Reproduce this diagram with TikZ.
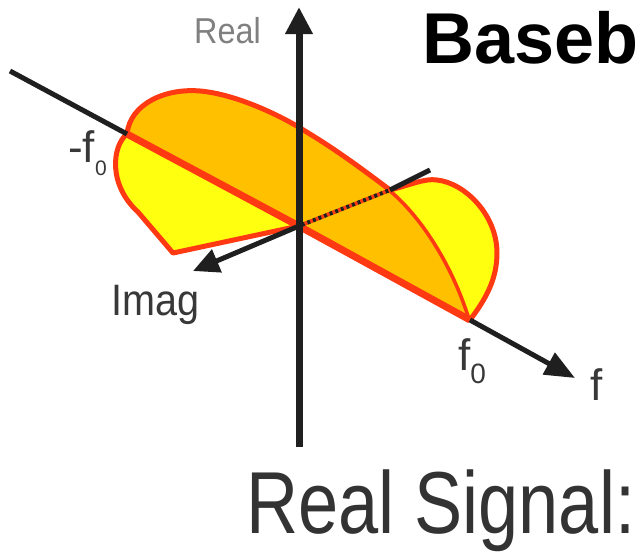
\documentclass[tikz,border=0pt]{standalone}
\usepackage{fontspec}
\usepackage{graphicx}
\setmainfont{Liberation Sans}
\usetikzlibrary{arrows.meta}
\definecolor{lobeorange}{HTML}{FFC000}
\definecolor{lobeyellow}{HTML}{FFFF10}
\definecolor{lobered}{HTML}{FF3A12}
\tikzset{
  axisline/.style={line width=5pt,draw=black!88},
  realaxis/.style={line width=7pt,draw=black!88,-{Triangle[length=27pt,width=26pt]}},
  farrow/.style={-{Triangle[length=30pt,width=24pt]}},
  iarrow/.style={-{Triangle[length=26pt,width=24pt]}},
  lobe/.style={draw=lobered,line width=5pt,line join=round},
  redaxis/.style={draw=lobered,line width=7pt},
  divider/.style={draw=lobered,line width=2.2pt},
  lbl/.style={inner sep=0pt,text=black!78,font=\fontsize{44}{44}\selectfont}
}

\begin{document}
\begin{tikzpicture}[x=1pt,y=-1pt]
  \useasboundingbox (0,0) rectangle (643,555);

  % axis points
  \coordinate (O) at (299,226);
  \coordinate (fneg) at (127,134);
  \coordinate (fpos) at (470,320);
  \coordinate (fstart) at (10,71);
  \coordinate (ftip) at (575,378);
  \coordinate (rtop) at (299,7);
  \coordinate (rbot) at (299,447);
  \coordinate (itip) at (193,271);
  \coordinate (ihid) at (390,190);
  \coordinate (iback) at (430,170);

  % lower left lobe
  \path[lobe,fill=lobeyellow] (fneg) .. controls (112,146) and (108,185) .. (138,212)
    -- (173,253) -- (O) -- cycle;
  % upper band
  \path[lobe,fill=lobeorange] (fneg) .. controls (130,104) and (165,88) .. (200,91)
    .. controls (235,94) and (280,115) .. (305,131)
    .. controls (340,152) and (370,175) .. (ihid)
    .. controls (420,215) and (452,262) .. (fpos) -- cycle;
  % right lobe
  \fill[lobeyellow] (ihid) .. controls (410,185) and (425,178) .. (437,180)
    .. controls (465,183) and (497,215) .. (497,253)
    .. controls (497,280) and (485,300) .. (fpos)
    .. controls (452,262) and (420,215) .. (ihid) -- cycle;
  \draw[lobe] (ihid) .. controls (410,185) and (425,178) .. (437,180)
    .. controls (465,183) and (497,215) .. (497,253)
    .. controls (497,280) and (485,300) .. (fpos);
  \draw[divider] (ihid) .. controls (420,215) and (452,262) .. (fpos);

  % f axis
  \draw[redaxis] (fneg) -- (O) -- (fpos);
  \draw[axisline] (fstart) -- (fneg);
  \draw[axisline,farrow] (fpos) -- (ftip);

  % imag axis, hidden part dotted
  \draw[lobered,line width=4pt,dash pattern=on 3pt off 3pt] (O) -- (ihid);
  \draw[black!88,line width=4pt,dash pattern=on 3pt off 3pt,dash phase=3pt] (O) -- (ihid);
  \draw[axisline] (ihid) -- (iback);
  \draw[axisline,iarrow] (O) -- (itip);

  % real axis
  \draw[realaxis] (rbot) -- (rtop);

  % labels
  \node[lbl,anchor=base west,text=black!50,font=\fontsize{36}{36}\selectfont] (reallbl)
    at (194,43) {\scalebox{0.9}[1]{Real}};
  \node[lbl,anchor=base west] (imaglbl) at (111,315) {\scalebox{0.9}[1]{Imag}};
  \node[lbl,anchor=base west] (fneglbl) at (68,162)
    {-f\raisebox{-13pt}{\fontsize{21}{21}\selectfont 0}};
  \node[lbl,anchor=base west] (fposlbl) at (458,370)
    {f\raisebox{-13pt}{\fontsize{28}{28}\selectfont 0}};
  \node[lbl,anchor=base west] (flbl) at (590,400) {f};

  % titles
  \node[inner sep=0pt,anchor=base west,font=\fontsize{72}{72}\selectfont\bfseries] (title)
    at (422,63) {Baseb};
  \node[inner sep=0pt,anchor=base west,text=black!80,font=\fontsize{88}{88}\selectfont] (subtitle)
    at (246,533) {\scalebox{0.82}[1]{Real Signal:}};
\end{tikzpicture}
\end{document}
